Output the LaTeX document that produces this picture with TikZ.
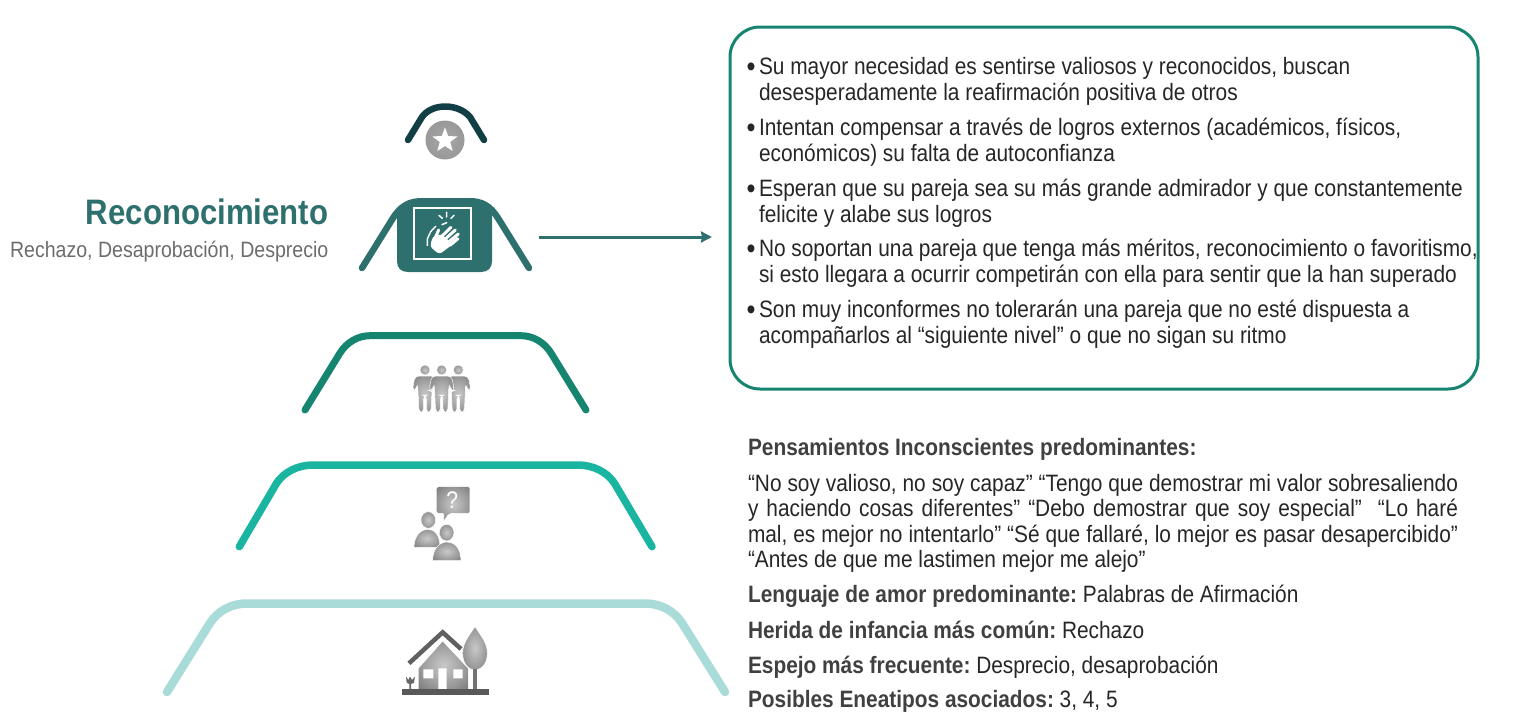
\documentclass[tikz,border=0pt]{standalone}
\usepackage{fontspec}
\usetikzlibrary{arrows.meta}
\setmainfont{Liberation Sans}[FakeStretch=0.88]
\definecolor{hero}{HTML}{2E706E}
\definecolor{darkarc}{HTML}{123F45}
\definecolor{arcb}{HTML}{16856F}
\definecolor{arcc}{HTML}{19B5A0}
\definecolor{arcd}{HTML}{A9DCD9}
\definecolor{bodytxt}{HTML}{262626}
\definecolor{headtxt}{HTML}{404040}
\definecolor{icoa}{HTML}{C8C8C8}
\definecolor{icob}{HTML}{969696}
\definecolor{icoc}{HTML}{555555}
\definecolor{meda}{HTML}{A6A6A6}
\definecolor{medb}{HTML}{949494}
\definecolor{medc}{HTML}{666666}
\pgfdeclareradialshading{iconshade}{\pgfpoint{0bp}{0bp}}{color(0bp)=(icoa); color(24bp)=(icob); color(50bp)=(icoc); color(100bp)=(icoc)}
\pgfdeclareradialshading{medalshade}{\pgfpoint{0bp}{0bp}}{color(0bp)=(meda); color(34bp)=(medb); color(50bp)=(medc); color(100bp)=(medc)}
\tikzset{
 x=1pt,y=-1pt,
 arcline/.style={line width=#1,line cap=round,line join=round},
 txt/.style={anchor=base west,inner sep=0pt,outer sep=0pt,text=bodytxt,font=\fontsize{23.7}{26}\selectfont},
 bul/.style={anchor=base west,inner sep=0pt,outer sep=0pt,text=bodytxt,font=\fontsize{29}{29}\selectfont},
 gico/.style={shade,shading=iconshade,draw=white,line width=0.5pt},
 personfig/.pic={
   \path[gico] (0,60) circle (15);
   \path[gico,rounded corners=4pt] (-30,78) -- (30,78) -- (38,122) -- (30,125) -- (22,100) -- (18,188) -- (4,188) -- (4,135) -- (-4,135) -- (-4,188) -- (-18,188) -- (-22,100) -- (-30,125) -- (-38,122) -- cycle;
 },
}
\newcommand{\bfl}[1]{{\bfseries\color{headtxt}#1}\kern-2pt\relax}
\begin{document}
\begin{tikzpicture}
\useasboundingbox (0,0) rectangle (1516,718);
% arcs
\draw[arcline=6.5pt,darkarc] (408,140) -- (422,117) .. controls (432,103) and (458,103) .. (470,117) -- (484,140);
\draw[arcline=7pt,arcb] (305,410) -- (340,353) .. controls (347,342) and (358,335.7) .. (370,335.7) -- (521,335.7) .. controls (533,335.7) and (544,342) .. (551,353) -- (586,410);
\draw[arcline=7.5pt,arcc] (239.3,546.7) -- (276.7,483) .. controls (284,472) and (298,465) .. (313,465) -- (578,465) .. controls (593,465) and (607,472) .. (614.3,483) -- (652,546.7);
\draw[arcline=8.5pt,arcd] (167,692) -- (210,623) .. controls (218,611) and (231,603.5) .. (247,603.5) -- (645,603.5) .. controls (661,603.5) and (674,611) .. (682,623) -- (725,692);
% shoulders and body
\fill[hero] (397,214) .. controls (403,205) and (410,201) .. (422,201) -- (470,201) .. controls (480,201) and (487,205) .. (492,214) -- (492,261) .. controls (492,268) and (488,272) .. (481,272) -- (408,272) .. controls (401,272) and (397,268) .. (397,261) -- cycle;
\draw[arcline=6.5pt,hero] (362,268) -- (392.4,219) .. controls (401,205) and (410,201.25) .. (422,201.25) -- (470,201.25) .. controls (481,201.25) and (490,205) .. (498.6,219) -- (529,268);
% clap icon
\draw[white,line width=1.3pt] (414,208) rectangle (471,259);
\begin{scope}[shift={(340,90)},x=0.3333pt,y=-0.3333pt]
 \draw[white,line width=1.4pt,line join=round] (262,468) -- (262,447) -- (272,425) -- (288,408);
 \fill[white,rounded corners=3pt] (270,470) -- (298,493) -- (338,463) -- (304,432) -- (278,440) -- cycle;
 \draw[white,line width=3pt,line cap=round] (296,448) -- (333,412) (306,456) -- (346,420) (316,464) -- (355,432) (330,466) -- (354,446) (283,450) -- (296,420);
 \draw[white,line width=1.5pt,line cap=round] (297,376) -- (307,385) (320,367) -- (320,381) (342,376) -- (333,385) (306,404) -- (320,398);
\end{scope}
% star medal
\path[shade,shading=medalshade] (445,140) circle (19.5);
\fill[white] (445,127.5) -- (448.2,136) -- (457.5,136.5) -- (450.2,142) -- (452.7,151) -- (445,146) -- (437.3,151) -- (439.8,142) -- (432.5,136.5) -- (441.8,136) -- cycle;
% people
\begin{scope}[shift={(390,350)},x=0.3333pt,y=-0.3333pt]
 \pic at (105,0) {personfig};
 \pic at (205,0) {personfig};
 \pic at (155,0) {personfig};
\end{scope}
% questioning people
\begin{scope}[shift={(390,480)},x=0.3333pt,y=-0.3333pt]
 \path[gico,rounded corners=2pt] (140,20) -- (240,20) -- (240,100) -- (178,100) -- (160,125) -- (162,100) -- (140,100) -- cycle;
 \node[text=white,font=\fontsize{24}{24}\selectfont] (qmark) at (187,60) {?};
 \path[gico] (115,120) ellipse (22 and 25);
 \path[gico] (72,202) .. controls (72,160) and (100,148) .. (112,148) .. controls (130,148) and (150,160) .. (150,202) -- cycle;
 \path[gico] (170,158) ellipse (22 and 25);
 \path[gico] (128,242) .. controls (128,200) and (155,186) .. (170,186) .. controls (190,186) and (213,200) .. (213,242) -- cycle;
\end{scope}
% house
\begin{scope}[shift={(390,480)},x=0.3333pt,y=-0.3333pt]
 \path[gico] (85,628) -- (85,565) -- (158,483) -- (235,565) -- (235,628) -- cycle;
 \fill[white] (100,568) rectangle (130,595) (145,565) rectangle (170,628) (190,568) rectangle (218,595);
 \draw[gray!75!black,line width=4.5pt] (57,550) -- (158,457) -- (213,507);
 \path[gico] (255,440) .. controls (275,470) and (292,490) .. (292,520) .. controls (292,555) and (270,570) .. (255,570) .. controls (240,570) and (218,555) .. (218,520) .. controls (218,490) and (235,470) .. (255,440) -- cycle;
 \fill[gray!90!black] (250,568) rectangle (260,630);
 \fill[gray!70!black] (35,628) rectangle (298,645);
 \fill[gray!80!black] (48,590) -- (55,600) -- (60,590) -- (66,600) -- (75,590) -- (72,608) -- (63,612) -- (63,628) -- (58,628) -- (58,612) -- (50,608) -- cycle;
\end{scope}
% title
\node[anchor=base east,inner sep=0pt,text=hero,font=\fontsize{35.4}{36}\selectfont\bfseries] (title) at (328.5,224) {Reconocimiento};
\node[anchor=base east,inner sep=0pt,text=gray!85!black,font=\fontsize{22.2}{26}\selectfont] (sub) at (328.5,257) {Rechazo, Desaprobación, Desprecio};
% arrow
\coordinate (arrowstart) at (539,237);
\coordinate (arrowend) at (712,237);
\draw[hero,line width=3pt,-{Stealth[length=11pt,width=11pt,inset=1pt]}] (arrowstart) -- (arrowend);
% box
\draw[arcb,line width=3pt,rounded corners=30pt] (730,27) rectangle (1478,389);
% bullets
\foreach \n/\y in {a/76,b/137,c/198,d/258,e/319} \node[bul] (bullet\n) at (746.5,\y) {•};
\node[txt] (l1) at (759,74) {Su mayor necesidad es sentirse valiosos y reconocidos, buscan};
\node[txt] (l2) at (759,100) {desesperadamente la reafirmación positiva de otros};
\node[txt] (l3) at (759,135) {Intentan compensar a través de logros externos (académicos, físicos,};
\node[txt] (l4) at (759,161) {económicos) su falta de autoconfianza};
\node[txt] (l5) at (759,196) {Esperan que su pareja sea su más grande admirador y que constantemente};
\node[txt] (l6) at (759,222) {felicite y alabe sus logros};
\node[txt] (l7) at (759,256) {No soportan una pareja que tenga más méritos, reconocimiento o favoritismo,};
\node[txt] (l8) at (759,282) {si esto llegara a ocurrir competirán con ella para sentir que la han superado};
\node[txt] (l9) at (759,317) {Son muy inconformes no tolerarán una pareja que no esté dispuesta a};
\node[txt] (l10) at (759,343) {acompañarlos al “siguiente nivel” o que no sigan su ritmo};
% lower text
\node[txt] (h1) at (748,455) {{\bfseries\color{headtxt}Pensamientos Inconscientes predominantes:}};
\node[txt] (p1) at (748,491) {\makebox[710pt][s]{“No soy valioso, no soy capaz” “Tengo que demostrar mi valor sobresaliendo}};
\node[txt] (p2) at (748,516) {\makebox[710pt][s]{y haciendo cosas diferentes” “Debo demostrar que soy especial”\ \ “Lo haré}};
\node[txt] (p3) at (748,542) {\makebox[710pt][s]{mal, es mejor no intentarlo” “Sé que fallaré, lo mejor es pasar desapercibido”}};
\node[txt] (p4) at (748,567) {“Antes de que me lastimen mejor me alejo”};
\node[txt] (q1) at (748,602) {\bfl{Lenguaje de amor predominante:} Palabras de Afirmación};
\node[txt] (q2) at (748,638) {\bfl{Herida de infancia más común:} Rechazo};
\node[txt] (q3) at (748,673) {\bfl{Espejo más frecuente:} Desprecio, desaprobación};
\node[txt] (q4) at (748,707) {\bfl{Posibles Eneatipos asociados:} 3, 4, 5};
\end{tikzpicture}
\end{document}
